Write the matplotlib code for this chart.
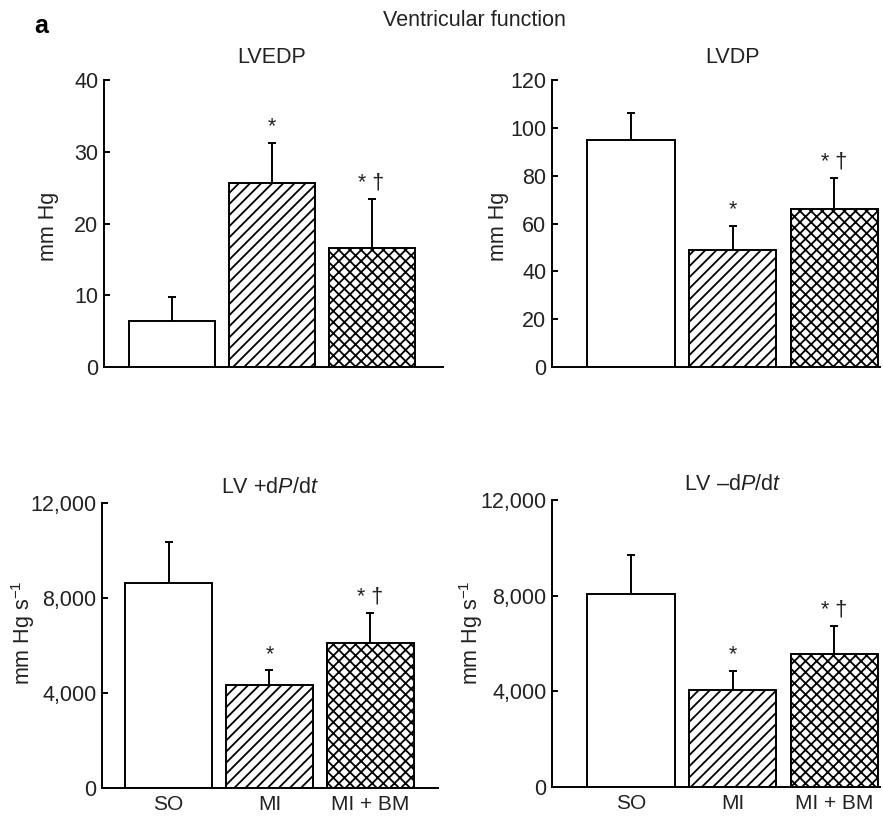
import numpy as np
import matplotlib
matplotlib.use('Agg')
import matplotlib.pyplot as plt
from matplotlib.ticker import StrMethodFormatter

plt.rcParams['font.family'] = ['Liberation Sans', 'DejaVu Sans']
plt.rcParams['mathtext.fontset'] = 'custom'
plt.rcParams['mathtext.rm'] = 'Liberation Sans'
plt.rcParams['mathtext.it'] = 'Liberation Sans:italic'
plt.rcParams['hatch.linewidth'] = 1.3
plt.rcParams['text.color'] = '#222222'

FS = 15.5

groups = ['SO', 'MI', 'MI + BM']
hatches = ['', '///', 'xxx']
marks = ['', '*', '* \u2020']

# means and upper error (SEM)
lvedp = [6.4, 25.6, 16.6]
lvedp_err = [3.35, 5.6, 6.8]
lvdp = [95, 49, 66]
lvdp_err = [11, 10, 13]
dpdt_pos = [8650, 4350, 6100]
dpdt_pos_err = [1700, 600, 1270]
dpdt_neg = [8050, 4050, 5550]
dpdt_neg_err = [1650, 800, 1200]

panels = [
    dict(title='LVEDP', vals=lvedp, err=lvedp_err, ticks=[0, 10, 20, 30, 40],
         ylabel='mm Hg', rect=[0.1178, 0.5519, 0.3839, 0.3504],
         xlim=(-0.675, 2.715), title_y=1.08, lab_xy=(0.0544, 0.723), xlab=False),
    dict(title='LVDP', vals=lvdp, err=lvdp_err, ticks=[0, 20, 40, 60, 80, 100, 120],
         ylabel='mm Hg', rect=[0.625, 0.5519, 0.3716, 0.3504],
         xlim=(-0.78, 2.45), title_y=1.08, lab_xy=(0.564, 0.723), xlab=False),
    dict(title='LV +d$P$/d$t$', vals=dpdt_pos, err=dpdt_pos_err,
         ticks=[0, 4000, 8000, 12000], ylabel='mm Hg s$^{-1}$',
         rect=[0.1155, 0.0379, 0.3805, 0.3479],
         xlim=(-0.66, 2.67), title_y=1.055, lab_xy=(0.026, 0.227), xlab=True),
    dict(title='LV \u2013d$P$/d$t$', vals=dpdt_neg, err=dpdt_neg_err,
         ticks=[0, 4000, 8000, 12000], ylabel='mm Hg s$^{-1}$',
         rect=[0.625, 0.039, 0.3716, 0.3505],
         xlim=(-0.78, 2.45), title_y=1.055, lab_xy=(0.534, 0.227), xlab=True),
]

fig = plt.figure(figsize=(8.83, 8.19), dpi=100)

for p in panels:
    ax = fig.add_axes(p['rect'])
    x = np.arange(len(groups))
    vals = np.array(p['vals'], dtype=float)
    err = np.array(p['err'], dtype=float)
    for i in range(len(groups)):
        ax.bar(x[i], vals[i], width=0.86, color='white', edgecolor='black',
               linewidth=1.4, hatch=hatches[i], zorder=2)
    ax.errorbar(x, vals, yerr=[np.zeros_like(err), err], fmt='none',
                ecolor='black', elinewidth=1.4, capsize=3, capthick=1.4, zorder=1)
    for i in range(len(groups)):
        if marks[i]:
            ax.annotate(marks[i], (x[i], vals[i] + err[i]), xytext=(0, 4),
                        textcoords='offset points', ha='center', va='bottom',
                        fontsize=FS)

    ax.set_xlim(*p['xlim'])
    ax.set_ylim(p['ticks'][0], p['ticks'][-1])
    ax.set_yticks(p['ticks'])
    if p['ticks'][-1] > 1000:
        ax.yaxis.set_major_formatter(StrMethodFormatter('{x:,.0f}'))
    ax.spines['top'].set_visible(False)
    ax.spines['right'].set_visible(False)
    ax.spines['left'].set_linewidth(1.4)
    ax.spines['bottom'].set_linewidth(1.4)
    ax.tick_params(axis='y', direction='in', length=4, width=1.4,
                   labelsize=FS, pad=4, labelcolor='#222222')
    ax.set_xticks(x)
    if p['xlab']:
        ax.set_xticklabels(groups)
    else:
        ax.set_xticklabels([])
    ax.tick_params(axis='x', length=0, labelsize=15, pad=5, labelcolor='#222222')

    ax.text(1, p['title_y'], p['title'], transform=ax.get_xaxis_transform(),
            ha='center', va='center', fontsize=FS)
    fig.text(p['lab_xy'][0], p['lab_xy'][1], p['ylabel'], rotation=90,
             ha='center', va='center', fontsize=FS)

fig.text(0.537, 0.975, 'Ventricular function', ha='center', va='center', fontsize=FS)
fig.text(0.039, 0.968, 'a', ha='left', va='center', fontsize=18, weight='bold',
         color='black')

fig.savefig('out.png', dpi=100)
